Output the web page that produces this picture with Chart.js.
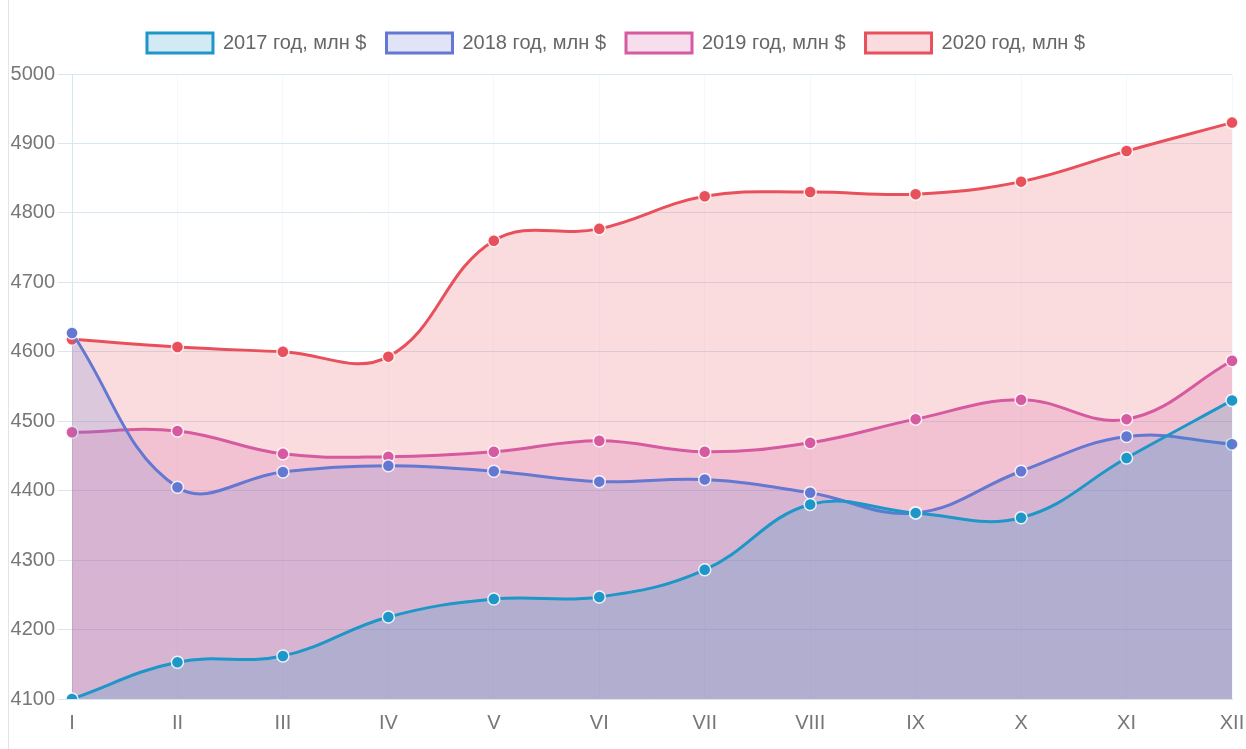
<!DOCTYPE html>
<html>
<head>
<meta charset="utf-8">
<script src="https://cdn.jsdelivr.net/npm/chart.js@4"></script>
<style>
  body { margin: 0; background: #fff; }
  #wrap { position: relative; width: 1246px; height: 749px; }
  #wrap:before { content: ""; position: absolute; left: 8px; top: 0; bottom: 0; border-left: 1px solid #e4e4e4; }
</style>
</head>
<body>
<div id="wrap"><canvas id="chart"></canvas></div>
<script>
const months = ["I", "II", "III", "IV", "V", "VI", "VII", "VIII", "IX", "X", "XI", "XII"];

const y2017 = [4100, 4153, 4162, 4218, 4244, 4247, 4286, 4380, 4368, 4361, 4447, 4530];
const y2018 = [4627, 4405, 4427, 4436, 4428, 4413, 4416, 4397, 4368, 4428, 4478, 4467];
const y2019 = [4484, 4486, 4453, 4449, 4456, 4472, 4456, 4469, 4503, 4531, 4503, 4587];
const y2020 = [4618, 4607, 4600, 4593, 4760, 4777, 4824, 4830, 4827, 4845, 4889, 4930];

const seriesNames = ["2017 год, млн $", "2018 год, млн $", "2019 год, млн $", "2020 год, млн $"];

const fontFamily = "'Liberation Sans Narrow', 'Arial Narrow', 'Liberation Sans', Arial, sans-serif";

function series(label, data, rgb) {
  return {
    label: label,
    data: data,
    borderColor: `rgb(${rgb})`,
    backgroundColor: `rgba(${rgb},0.2)`,
    borderWidth: 3,
    fill: "origin",
    tension: 0.4,
    pointRadius: 6,
    pointBorderWidth: 1.5,
    pointBackgroundColor: `rgb(${rgb})`,
    pointBorderColor: "rgba(255,255,255,0.85)",
  };
}

// a bit of extra room between legend and plot
const legendMargin = {
  id: "legendMargin",
  beforeInit(chart) {
    const fit = chart.legend.fit;
    chart.legend.fit = function() {
      fit.bind(chart.legend)();
      this.height += 11;
    };
  },
};

const canvas = document.getElementById("chart");

new Chart(canvas, {
  type: "line",
  data: {
    labels: months,
    datasets: [
      series(seriesNames[0], y2017, "30,150,200"),
      series(seriesNames[1], y2018, "100,120,210"),
      series(seriesNames[2], y2019, "214,90,160"),
      series(seriesNames[3], y2020, "232,80,91"),
    ],
  },
  plugins: [legendMargin],
  options: {
    responsive: true,
    maintainAspectRatio: false,
    animation: false,
    layout: {
      padding: { top: 13, left: 0, right: 14, bottom: 0 },
    },
    plugins: {
      legend: {
        labels: {
          boxWidth: 66,
          boxHeight: 20,
          padding: 20,
          color: "#666",
          font: { family: fontFamily, size: 20 },
        },
      },
      tooltip: { enabled: false },
    },
    scales: {
      x: {
        grid: {
          color: "rgba(200,222,236,0.2)",
          drawTicks: false,
        },
        border: { color: "#d6e7f1" },
        ticks: {
          padding: 12,
          color: "#777",
          font: { family: fontFamily, size: 20 },
        },
        afterFit: function(axis) {
          axis.height = 50;
          axis.paddingRight = 0;
        },
      },
      y: {
        min: 4100,
        max: 5000,
        grid: {
          color: "rgba(190,216,232,0.6)",
          tickLength: 14,
        },
        border: { color: "#d6e7f1" },
        ticks: {
          stepSize: 100,
          padding: 3,
          color: "#777",
          font: { family: fontFamily, size: 20 },
          callback: function(value) {
            return String(value);
          },
        },
        afterFit: function(axis) {
          axis.width = 72;
        },
      },
    },
  },
});
</script>
</body>
</html>
